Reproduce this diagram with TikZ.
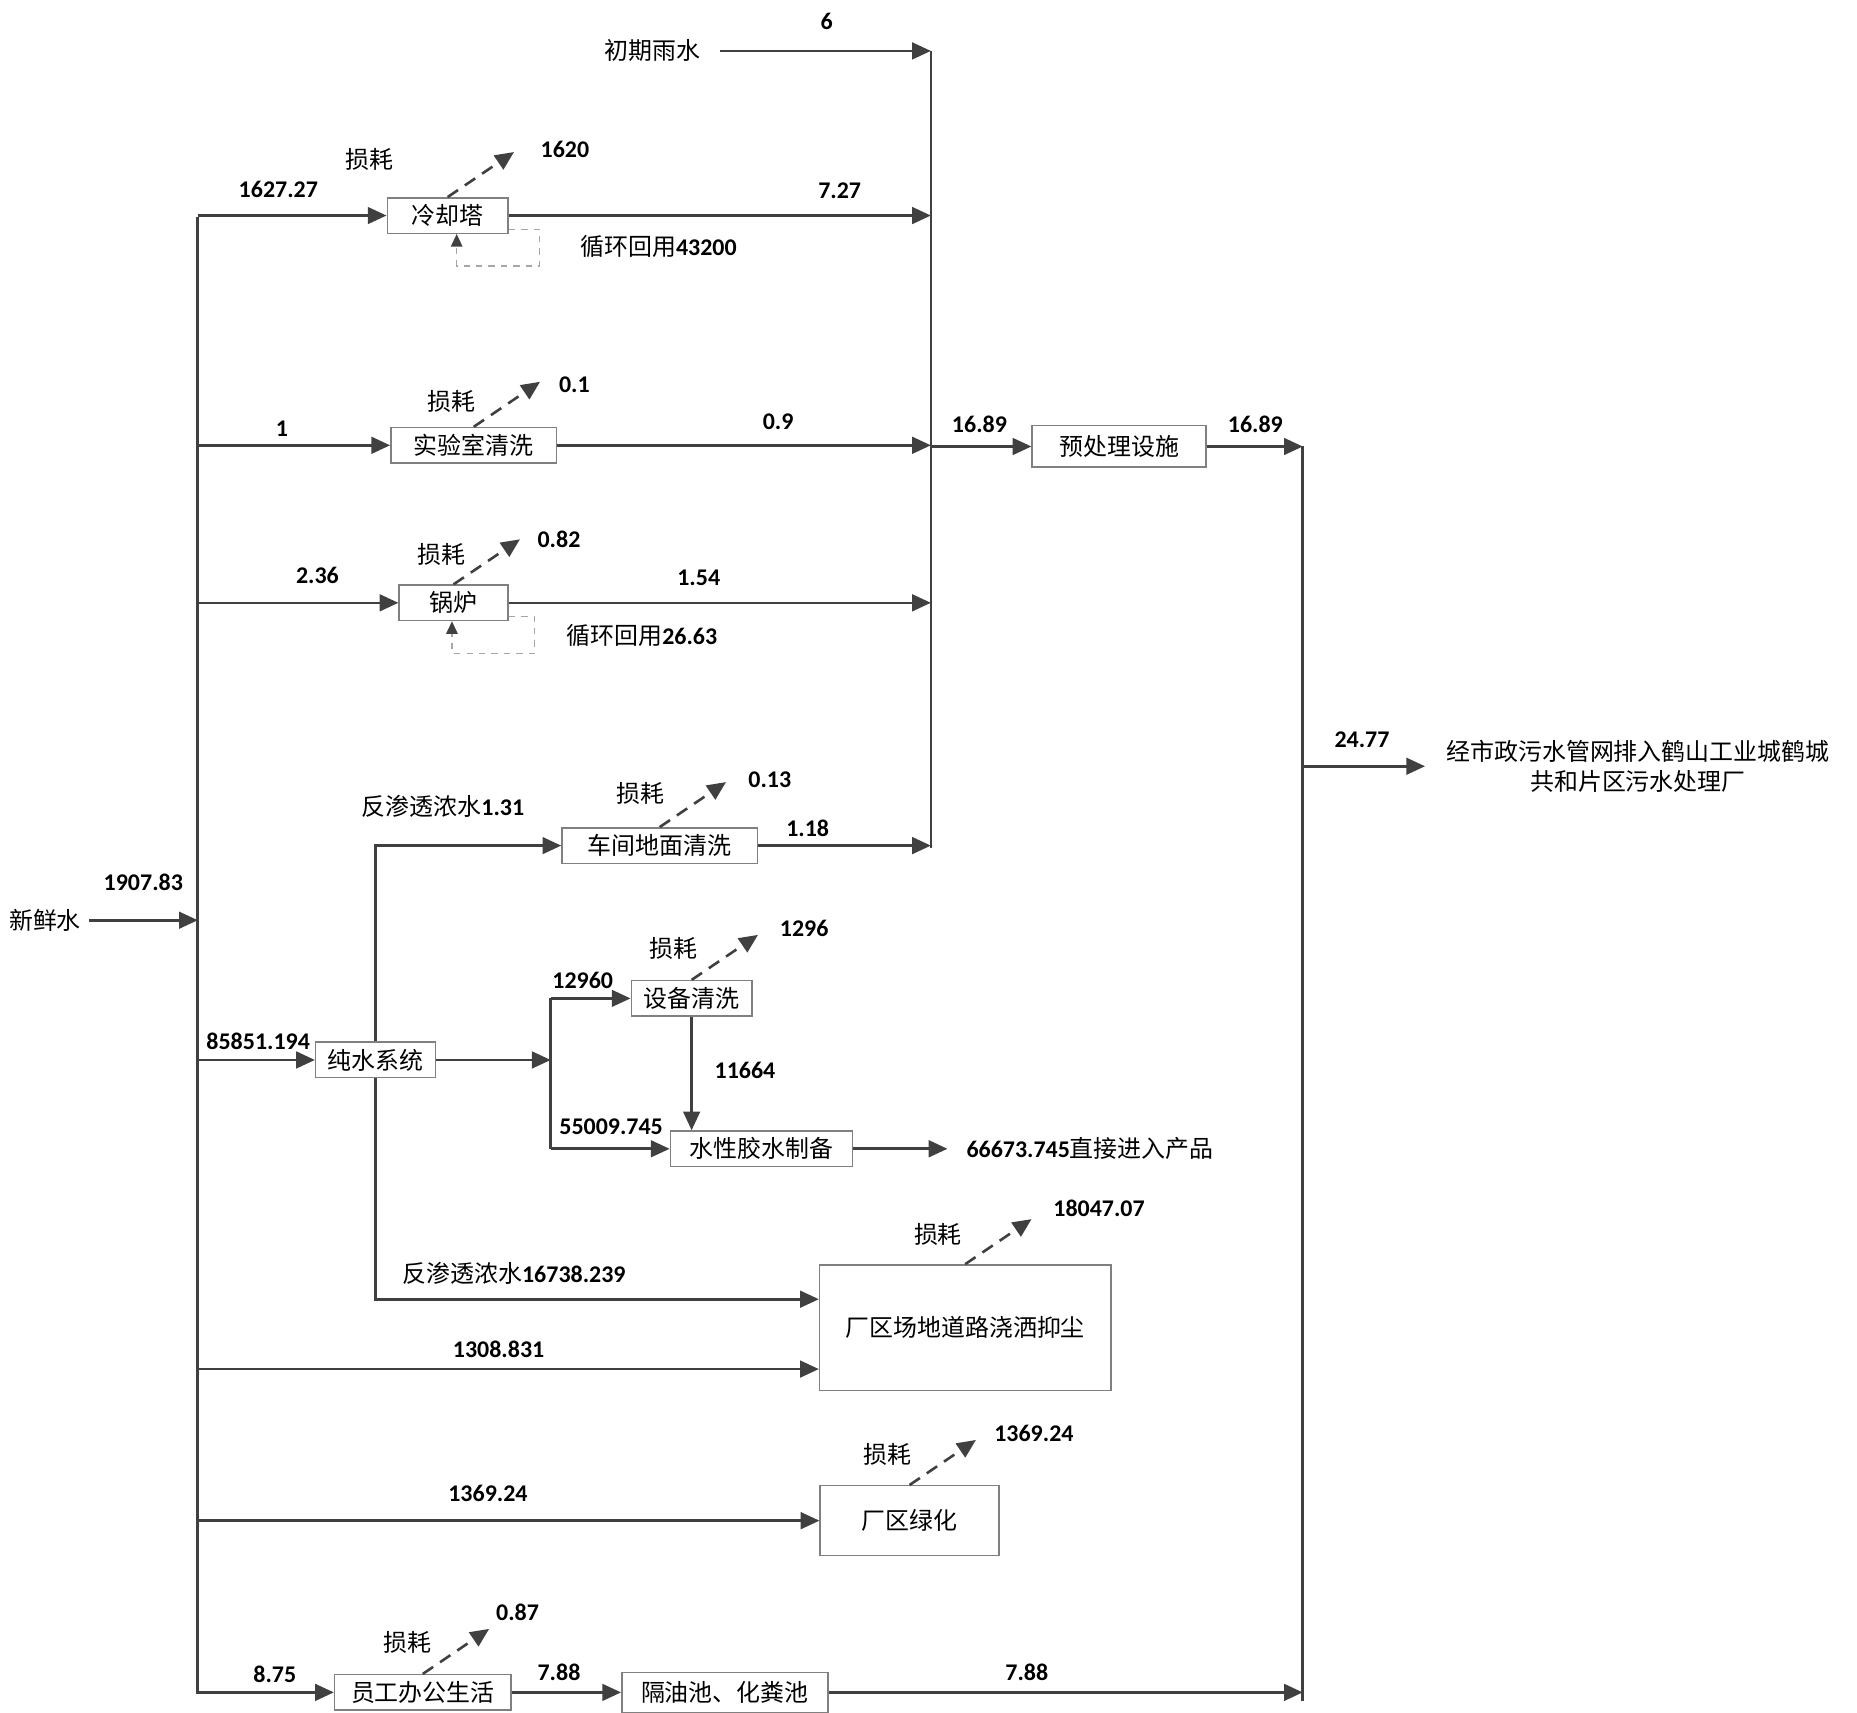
\documentclass[tikz,border=0pt]{standalone}
\usepackage{fontspec}
\setmainfont{Carlito}
\newfontfamily\cjk{Noto Sans CJK SC}
\usetikzlibrary{arrows.meta}
\definecolor{linegray}{RGB}{64,64,64}
\definecolor{boxgray}{RGB}{128,128,128}

\begin{document}
\begin{tikzpicture}[x=0.02cm, y=-0.02cm, >={Triangle[length=9pt,width=8pt]},
	line width=1.25pt, color=linegray,
	box/.style={draw=boxgray, line width=0.7pt, fill=white, text=black, minimum height=0.6cm, inner sep=2pt, font=\cjk\fontsize{11.5}{13.5}\selectfont},
	num/.style={text=black, font=\bfseries\fontsize{11.5}{13.5}\selectfont},
	zh/.style={text=black, font=\cjk\fontsize{11.5}{14.7}\selectfont},
	loss/.style={->, dash pattern=on 6pt off 4pt},
	recyc/.style={-{Triangle[length=6pt,width=5.5pt,color=linegray]}, gray!70, line width=0.6pt, dashed}]
	\useasboundingbox (0,0) rectangle (1568,1446);
	% Anlagen
	\node[box, minimum width=2.04cm] (cool) at (378,182) {冷却塔};
	\node[box, minimum width=2.8cm] (lab) at (400,376) {实验室清洗};
	\node[box, minimum width=1.84cm] (boiler) at (383,509) {锅炉};
	\node[box, minimum width=3.3cm] (floor) at (557,714) {车间地面清洗};
	\node[box, minimum width=2.02cm] (pure) at (317,895) {纯水系统};
	\node[box, minimum width=2.04cm] (equip) at (584,843) {设备清洗};
	\node[box, minimum width=3.08cm] (glue) at (643,970) {水性胶水制备};
	\node[box, minimum width=4.92cm, minimum height=2.12cm] (road) at (815,1121) {厂区场地道路浇洒抑尘};
	\node[box, minimum width=3.02cm, minimum height=1.18cm] (green) at (768,1284) {厂区绿化};
	\node[box, minimum width=2.98cm] (staff) at (357,1429) {员工办公生活};
	\node[box, minimum width=3.48cm, minimum height=0.68cm] (tank) at (612,1429) {隔油池、化粪池};
	\node[box, minimum width=2.94cm, minimum height=0.7cm] (pre) at (945,377) {预处理设施};
	% Quellen und Ziele
	\node[zh] (fresh) at (38,777) {新鲜水};
	\node[zh] (rain) at (551,43) {初期雨水};
	\node[num, anchor=west, inner sep=0] (prod) at (815,970) {66673.745{\cjk\mdseries 直接进入产品}};
	\node[zh, align=center, inner sep=0] (out) at (1383,647) {经市政污水管网排入鹤山工业城鹤城\\共和片区污水处理厂};
	% Sammelleitungen
	\coordinate (busL) at (167,183);
	\coordinate (busL end) at (167,1430);
	\coordinate (busA) at (786,43);
	\coordinate (busA end) at (786,716);
	\coordinate (busB) at (1100,377);
	\coordinate (busB end) at (1100,1436);
	\coordinate (split) at (465,895);
	\coordinate (roadIn1) at ([yshift=0.48cm]road.west);
	\coordinate (roadIn2) at ([yshift=-0.7cm]road.west);
	\draw (busL) -- (busL end);
	\draw (busA) -- (busA end);
	\draw (busB) -- (busB end);
	% Zulauf
	\draw[->] (fresh.east) -- (fresh -| busL);
	\draw[->] (busL |- cool) -- (cool.west);
	\draw[->] (busL |- lab) -- (lab.west);
	\draw[->] (busL |- boiler) -- (boiler.west);
	\draw[->] (busL |- pure) -- (pure.west);
	\draw[->] (busL |- roadIn2) -- (roadIn2);
	\draw[->] (busL |- green) -- (green.west);
	\draw[->] (busL |- staff) -- (staff.west);
	\draw[->] ([xshift=0.2cm]rain.east) -- (rain -| busA);
	% Reinwasser
	\draw[->] (pure.north) |- (floor.west);
	\draw[->] (pure.south) |- (roadIn1);
	\draw[->] (pure.east) -- (split);
	\draw (split |- equip) -- (split |- glue);
	\draw[->] (split |- equip) -- (equip.west);
	\draw[->] (split |- glue) -- (glue.west);
	\draw[->] (equip.south) -- (equip.south |- glue.north);
	\draw[->] (glue.east) -- ([xshift=-0.3cm]prod.west);
	% Abwasser
	\draw[->] (cool.east) -- (cool.east -| busA);
	\draw[->] (lab.east) -- (lab.east -| busA);
	\draw[->] (boiler.east) -- (boiler.east -| busA);
	\draw[->] (floor.east) -- (floor.east -| busA);
	\draw[->] (busA |- pre) -- (pre.west);
	\draw[->] (pre.east) -- (busB);
	\draw[->] (staff) -- (tank);
	\draw[->] (tank.east) -- (tank.east -| busB);
	\draw[->] (busB |- out) -- ([xshift=-0.34cm]out.west);
	% Verluste
	\foreach \n in {cool,lab,boiler,floor,equip,road,green,staff}{
		\path (\n.north) ++(56,-38) coordinate (\n-loss);
		\draw[loss] (\n.north) -- (\n-loss);
	}
	% Kreislauf
	\draw[recyc] (cool.south east) ++(0,-4) -- ++(26,0) -- ++(0,31) -- ++(-70,0) -- ++(0,-27);
	\draw[recyc] (boiler.south east) ++(0,-4) -- ++(22,0) -- ++(0,31) -- ++(-70,0) -- ++(0,-27);
	% Beschriftung
	\node[num] (q-fresh) at (121,745) {1907.83};
	\node[num] (q-rain) at (698,18) {6};
	\node[num] (q-cool-in) at (235,160) {1627.27};
	\node[num] (q-cool-out) at (709,161) {7.27};
	\node[zh] (t-cool-loss) at (312,135) {损耗};
	\node[num] (q-cool-loss) at (477,126) {1620};
	\node[num] (q-cool-rec) at (556,208) {{\cjk\mdseries 循环回用}43200};
	\node[num] (q-lab-in) at (238,362) {1};
	\node[num] (q-lab-out) at (657,356) {0.9};
	\node[zh] (t-lab-loss) at (381,339) {损耗};
	\node[num] (q-lab-loss) at (485,325) {0.1};
	\node[num] (q-boiler-in) at (268,486) {2.36};
	\node[num] (q-boiler-out) at (590,488) {1.54};
	\node[zh] (t-boiler-loss) at (373,468) {损耗};
	\node[num] (q-boiler-loss) at (472,455) {0.82};
	\node[num] (q-boiler-rec) at (542,537) {{\cjk\mdseries 循环回用}26.63};
	\node[num] (q-floor-in) at (374,681) {{\cjk\mdseries 反渗透浓水}1.31};
	\node[num] (q-floor-out) at (682,699) {1.18};
	\node[zh] (t-floor-loss) at (541,670) {损耗};
	\node[num] (q-floor-loss) at (650,658) {0.13};
	\node[num] (q-pure-in) at (218,879) {85851.194};
	\node[num] (q-equip-in) at (492,828) {12960};
	\node[zh] (t-equip-loss) at (569,801) {损耗};
	\node[num] (q-equip-loss) at (679,784) {1296};
	\node[num] (q-equip-out) at (629,904) {11664};
	\node[num] (q-glue-in) at (516,951) {55009.745};
	\node[num] (q-road-in1) at (434,1075) {{\cjk\mdseries 反渗透浓水}16738.239};
	\node[num] (q-road-in2) at (421,1139) {1308.831};
	\node[zh] (t-road-loss) at (792,1042) {损耗};
	\node[num] (q-road-loss) at (928,1020) {18047.07};
	\node[num] (q-green-in) at (412,1261) {1369.24};
	\node[zh] (t-green-loss) at (749,1228) {损耗};
	\node[num] (q-green-loss) at (873,1210) {1369.24};
	\node[num] (q-staff-in) at (232,1414) {8.75};
	\node[num] (q-staff-out) at (472,1412) {7.88};
	\node[zh] (t-staff-loss) at (344,1387) {损耗};
	\node[num] (q-staff-loss) at (437,1361) {0.87};
	\node[num] (q-tank-out) at (867,1412) {7.88};
	\node[num] (q-pre-in) at (827,358) {16.89};
	\node[num] (q-pre-out) at (1060,358) {16.89};
	\node[num] (q-out) at (1150,625) {24.77};
\end{tikzpicture}
\end{document}
